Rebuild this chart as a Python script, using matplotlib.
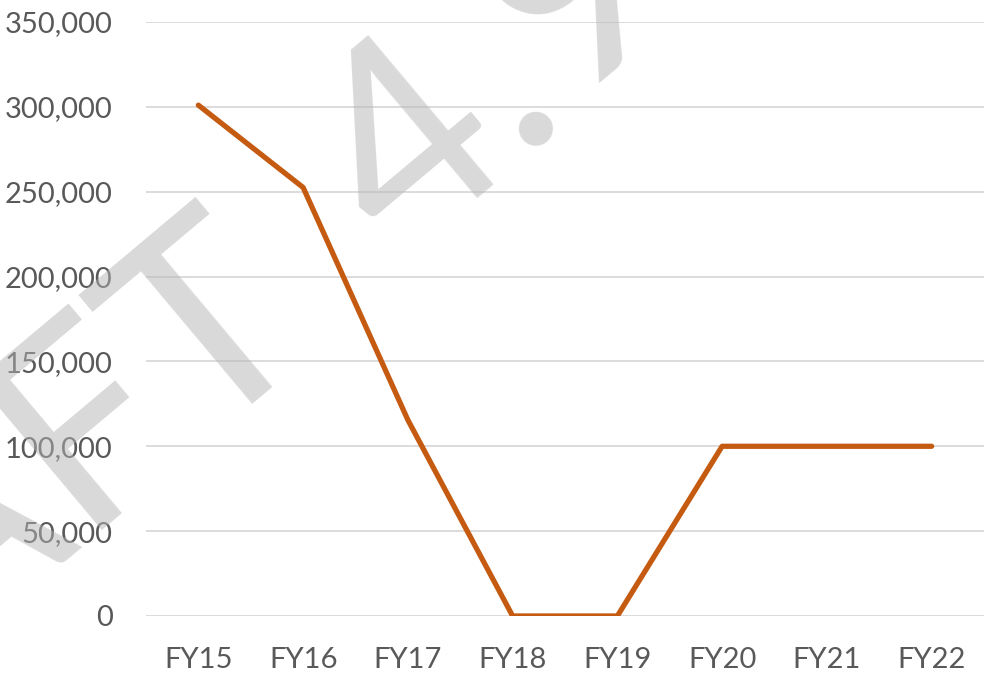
import matplotlib
matplotlib.use("Agg")
import matplotlib.pyplot as plt
from matplotlib.ticker import FuncFormatter

years = ["FY15", "FY16", "FY17", "FY18", "FY19", "FY20", "FY21", "FY22"]
values = [301000, 252500, 115500, 0, 0, 100000, 100000, 100000]
y_ticks = [0, 50000, 100000, 150000, 200000, 250000, 300000, 350000]

text_col = "#595959"
grid_col = "#D9D9D9"
line_col = "#C55A11"

fig = plt.figure(figsize=(9.85, 6.77), dpi=100)
ax = fig.add_axes([146 / 985, 1 - 616 / 677, 838 / 985, (616 - 22) / 677])

x = list(range(len(years)))
ax.plot(x, values, color=line_col, lw=3.8, solid_capstyle="round",
        solid_joinstyle="round", zorder=3)

ax.set_xlim(-0.5, len(years) - 0.5)
ax.set_ylim(0, 350000)
ax.set_xticks(x)
ax.set_xticklabels(years)
ax.set_yticks(y_ticks)
ax.yaxis.set_major_formatter(FuncFormatter(lambda v, p: f"{int(v):,}"))

ax.grid(axis="y", color=grid_col, lw=1.3)
ax.set_axisbelow(True)
for s in ax.spines.values():
    s.set_visible(False)
ax.tick_params(length=0, labelsize=21, labelcolor=text_col)
ax.tick_params(axis="x", pad=22)
ax.tick_params(axis="y", pad=24)
for lab in ax.get_xticklabels() + ax.get_yticklabels():
    lab.set_fontfamily("Lato")

# watermark
wm = dict(rotation=40, rotation_mode="anchor", va="baseline", ha="left",
          fontsize=196, family="Lato", color="#B4B4B4", alpha=0.5, zorder=10)
fig.text(0.323, 0.517, "DRAFT", **dict(wm, ha="right"))
fig.text(0.407, 0.617, "4.", **wm)
fig.text(0.577, 0.856, "9", **wm)

fig.savefig("out.png", dpi=100)
